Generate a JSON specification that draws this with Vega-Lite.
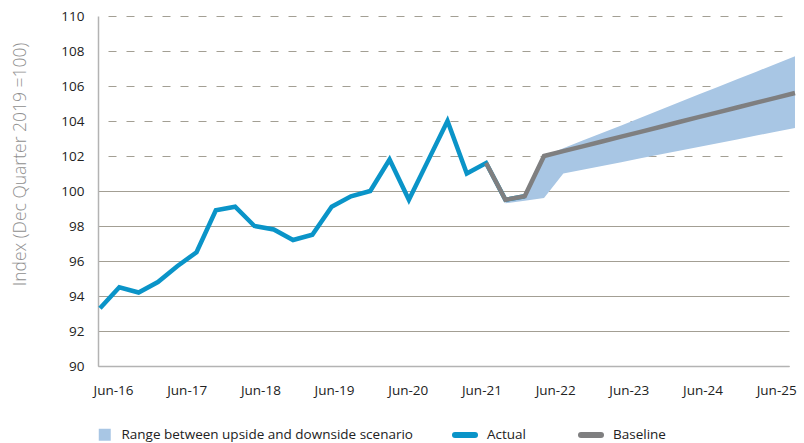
{
  "$schema": "https://vega.github.io/schema/vega-lite/v6.json",
  "autosize": {"type": "none"},
  "padding": {"left": 98, "top": 16, "right": 15, "bottom": 77},
  "width": 691,
  "height": 350,
  "config": {
    "view": {"stroke": null},
    "font": "Open Sans",
    "axis": {"labelFont": "Open Sans", "labelColor": "#222222", "labelFontSize": 13.5}
  },
  "layer": [
    {
      "data": {"values": [
        {"q": 21, "quarter": "Sep-21", "lo": 99.3, "hi": 99.5},
        {"q": 22, "quarter": "Dec-21", "lo": 99.45, "hi": 99.7},
        {"q": 23, "quarter": "Mar-22", "lo": 99.6, "hi": 102.0},
        {"q": 24, "quarter": "Jun-22", "lo": 101.0, "hi": 102.44},
        {"q": 25, "quarter": "Sep-22", "lo": 101.22, "hi": 102.88},
        {"q": 26, "quarter": "Dec-22", "lo": 101.43, "hi": 103.32},
        {"q": 27, "quarter": "Mar-23", "lo": 101.65, "hi": 103.75},
        {"q": 28, "quarter": "Jun-23", "lo": 101.87, "hi": 104.19},
        {"q": 29, "quarter": "Sep-23", "lo": 102.08, "hi": 104.63},
        {"q": 30, "quarter": "Dec-23", "lo": 102.3, "hi": 105.07},
        {"q": 31, "quarter": "Mar-24", "lo": 102.52, "hi": 105.51},
        {"q": 32, "quarter": "Jun-24", "lo": 102.73, "hi": 105.95},
        {"q": 33, "quarter": "Sep-24", "lo": 102.95, "hi": 106.38},
        {"q": 34, "quarter": "Dec-24", "lo": 103.17, "hi": 106.82},
        {"q": 35, "quarter": "Mar-25", "lo": 103.38, "hi": 107.26},
        {"q": 36, "quarter": "Jun-25", "lo": 103.6, "hi": 107.7}
      ]},
      "mark": {"type": "area", "clip": false, "opacity": 1},
      "encoding": {
        "x": {
          "field": "q", "type": "quantitative",
          "scale": {"domain": [-0.1036, 35.69], "nice": false, "zero": false},
          "axis": {
            "title": null,
            "values": [0.673, 4.49, 8.307, 12.124, 15.941, 19.758, 23.575, 27.392, 31.209, 35.026],
            "labelExpr": "['Jun-16','Jun-17','Jun-18','Jun-19','Jun-20','Jun-21','Jun-22','Jun-23','Jun-24','Jun-25'][round((datum.value - 0.673) / 3.817)]",
            "ticks": false,
            "grid": false,
            "domainColor": "#b3b3b3",
            "domainWidth": 1.5,
            "labelPadding": 17,
            "labelFlush": false,
            "labelOverlap": false
          }
        },
        "y": {
          "field": "lo", "type": "quantitative",
          "scale": {"domain": [90, 110], "nice": false, "zero": false},
          "axis": {
            "title": "Index (Dec Quarter 2019 =100)",
            "titleFont": "Open Sans",
            "titleFontWeight": 300,
            "titleFontSize": 17.5,
            "titleColor": "#8f8f8f",
            "titlePadding": 31,
            "titleY": 148,
            "values": [90, 92, 94, 96, 98, 100, 102, 104, 106, 108, 110],
            "tickCount": 11,
            "ticks": false,
            "labelPadding": 14,
            "labelOverlap": false,
            "labelFlush": false,
            "domainColor": "#b3b3b3",
            "domainWidth": 1.5,
            "grid": true,
            "gridColor": "#a39f94",
            "gridWidth": 1.2,
            "gridDash": {"condition": {"test": "datum.value > 100", "value": [8, 10]}, "value": []},
            "gridDashOffset": 8
          }
        },
        "y2": {"field": "hi"},
        "fill": {
          "datum": "Range between upside and downside scenario",
          "type": "nominal",
          "scale": {"range": ["#a8c6e4"]},
          "legend": {
            "title": null,
            "orient": "none",
            "legendX": 0,
            "legendY": 412,
            "symbolType": "square",
            "symbolSize": 144,
            "symbolOpacity": 1,
            "symbolStrokeWidth": 0,
            "labelFontSize": 13.5,
            "labelColor": "#222222",
            "labelOffset": 10,
            "labelLimit": 400
          }
        }
      }
    },
    {
      "data": {"values": [
        {"q": 0, "quarter": "Jun-16", "series": "Actual", "value": 93.3},
        {"q": 1, "quarter": "Sep-16", "series": "Actual", "value": 94.5},
        {"q": 2, "quarter": "Dec-16", "series": "Actual", "value": 94.2},
        {"q": 3, "quarter": "Mar-17", "series": "Actual", "value": 94.8},
        {"q": 4, "quarter": "Jun-17", "series": "Actual", "value": 95.7},
        {"q": 5, "quarter": "Sep-17", "series": "Actual", "value": 96.5},
        {"q": 6, "quarter": "Dec-17", "series": "Actual", "value": 98.9},
        {"q": 7, "quarter": "Mar-18", "series": "Actual", "value": 99.1},
        {"q": 8, "quarter": "Jun-18", "series": "Actual", "value": 98.0},
        {"q": 9, "quarter": "Sep-18", "series": "Actual", "value": 97.8},
        {"q": 10, "quarter": "Dec-18", "series": "Actual", "value": 97.2},
        {"q": 11, "quarter": "Mar-19", "series": "Actual", "value": 97.5},
        {"q": 12, "quarter": "Jun-19", "series": "Actual", "value": 99.1},
        {"q": 13, "quarter": "Sep-19", "series": "Actual", "value": 99.7},
        {"q": 14, "quarter": "Dec-19", "series": "Actual", "value": 100.0},
        {"q": 15, "quarter": "Mar-20", "series": "Actual", "value": 101.8},
        {"q": 16, "quarter": "Jun-20", "series": "Actual", "value": 99.5},
        {"q": 17, "quarter": "Sep-20", "series": "Actual", "value": 101.75},
        {"q": 18, "quarter": "Dec-20", "series": "Actual", "value": 104.0},
        {"q": 19, "quarter": "Mar-21", "series": "Actual", "value": 101.0},
        {"q": 20, "quarter": "Jun-21", "series": "Actual", "value": 101.6},
        {"q": 21, "quarter": "Sep-21", "series": "Actual", "value": 99.5},
        {"q": 22, "quarter": "Dec-21", "series": "Actual", "value": 99.7},
        {"q": 20, "quarter": "Jun-21", "series": "Baseline", "value": 101.6},
        {"q": 21, "quarter": "Sep-21", "series": "Baseline", "value": 99.5},
        {"q": 22, "quarter": "Dec-21", "series": "Baseline", "value": 99.7},
        {"q": 23, "quarter": "Mar-22", "series": "Baseline", "value": 102.0},
        {"q": 24, "quarter": "Jun-22", "series": "Baseline", "value": 102.28},
        {"q": 25, "quarter": "Sep-22", "series": "Baseline", "value": 102.55},
        {"q": 26, "quarter": "Dec-22", "series": "Baseline", "value": 102.83},
        {"q": 27, "quarter": "Mar-23", "series": "Baseline", "value": 103.11},
        {"q": 28, "quarter": "Jun-23", "series": "Baseline", "value": 103.38},
        {"q": 29, "quarter": "Sep-23", "series": "Baseline", "value": 103.66},
        {"q": 30, "quarter": "Dec-23", "series": "Baseline", "value": 103.94},
        {"q": 31, "quarter": "Mar-24", "series": "Baseline", "value": 104.22},
        {"q": 32, "quarter": "Jun-24", "series": "Baseline", "value": 104.49},
        {"q": 33, "quarter": "Sep-24", "series": "Baseline", "value": 104.77},
        {"q": 34, "quarter": "Dec-24", "series": "Baseline", "value": 105.05},
        {"q": 35, "quarter": "Mar-25", "series": "Baseline", "value": 105.32},
        {"q": 36, "quarter": "Jun-25", "series": "Baseline", "value": 105.6}
      ]},
      "mark": {"type": "line", "clip": false, "strokeWidth": 4.5, "strokeJoin": "miter", "strokeCap": "butt"},
      "encoding": {
        "x": {"field": "q", "type": "quantitative",
          "axis": {
            "title": null,
            "values": [0.673, 4.49, 8.307, 12.124, 15.941, 19.758, 23.575, 27.392, 31.209, 35.026],
            "labelExpr": "['Jun-16','Jun-17','Jun-18','Jun-19','Jun-20','Jun-21','Jun-22','Jun-23','Jun-24','Jun-25'][round((datum.value - 0.673) / 3.817)]",
            "ticks": false,
            "grid": false,
            "domainColor": "#b3b3b3",
            "domainWidth": 1.5,
            "labelPadding": 17,
            "labelFlush": false,
            "labelOverlap": false
          }
        },
        "y": {"field": "value", "type": "quantitative",
          "axis": {
            "title": "Index (Dec Quarter 2019 =100)",
            "titleFont": "Open Sans",
            "titleFontWeight": 300,
            "titleFontSize": 17.5,
            "titleColor": "#8f8f8f",
            "titlePadding": 31,
            "titleY": 148,
            "values": [90, 92, 94, 96, 98, 100, 102, 104, 106, 108, 110],
            "tickCount": 11,
            "ticks": false,
            "labelPadding": 14,
            "labelOverlap": false,
            "labelFlush": false,
            "domainColor": "#b3b3b3",
            "domainWidth": 1.5,
            "grid": true,
            "gridColor": "#a39f94",
            "gridWidth": 1.2,
            "gridDash": {"condition": {"test": "datum.value > 100", "value": [8, 10]}, "value": []},
            "gridDashOffset": 8
          }
        },
        "order": {"field": "q"},
        "detail": {"field": "series"},
        "stroke": {
          "field": "series", "type": "nominal",
          "scale": {"domain": ["Actual", "Baseline"], "range": ["#0a94c8", "#7f7f80"]},
          "legend": {
            "title": null,
            "orient": "none",
            "direction": "horizontal",
            "legendX": 354,
            "legendY": 406,
            "symbolType": "stroke",
            "symbolSize": 400,
            "symbolStrokeWidth": 6,
            "labelFontSize": 13.5,
            "labelColor": "#222222",
            "labelOffset": 9,
            "columnPadding": 42,
            "encode": {"symbols": {"update": {"strokeCap": {"value": "round"}}}}
          }
        }
      }
    }
  ]
}
